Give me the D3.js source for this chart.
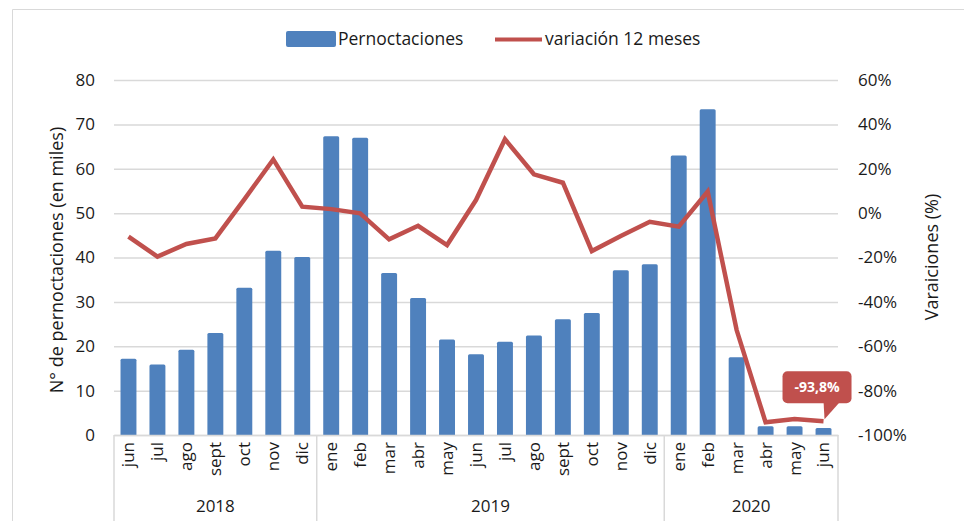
<!DOCTYPE html>
<html>
<head>
<meta charset="utf-8">
<script src="https://cdn.jsdelivr.net/npm/d3@7"></script>
<style>
  body { margin: 0; background: #fff; }
  text { font-family: "Open Sans", "Noto Sans", sans-serif; fill: #1a1a1a; }
</style>
</head>
<body>
<div id="chart"></div>
<script>
// month labels, one per bar (jun 2018 .. jun 2020)
const months = ['jun', 'jul', 'ago', 'sept', 'oct', 'nov', 'dic',
  'ene', 'feb', 'mar', 'abr', 'may', 'jun', 'jul', 'ago', 'sept', 'oct', 'nov', 'dic',
  'ene', 'feb', 'mar', 'abr', 'may', 'jun'];
const yearLabels = ['2018', '2019', '2020'];
const yearSpans = [7, 12, 6];

// pernoctaciones, miles
const pernoctaciones = [17.2, 15.9, 19.2, 23.0, 33.2, 41.5, 40.1,
  67.3, 67.0, 36.5, 30.9, 21.5, 18.2, 21.0, 22.4, 26.1, 27.5, 37.1, 38.5,
  63.0, 73.4, 17.5, 2.0, 2.0, 1.6];
// variación 12 meses, %
const variacion = [-10.6, -19.6, -13.9, -11.4, 6.2, 24.2, 2.9,
  1.8, -0.1, -11.8, -5.7, -14.4, 5.9, 33.3, 17.5, 13.7, -17.1, -10.3, -3.9,
  -6.1, 9.7, -52.7, -94.3, -92.8, -93.8];

const leftTicks = [0, 10, 20, 30, 40, 50, 60, 70, 80];
const rightTicks = [-100, -80, -60, -40, -20, 0, 20, 40, 60];
const calloutLabel = '-93,8%';

const width = 964, height = 521;
const margin = { top: 80, right: 126, bottom: 86, left: 114 };
const blue = '#4f81bd', red = '#c0504d', grid = '#d9d9d9';

const keys = months.map((m, i) => i + '-' + m);

const svg = d3.select('#chart').append('svg')
  .attr('width', width)
  .attr('height', height);

// outer frame
svg.append('path')
  .attr('d', `M12.5,${height} V9.5 H${width}`)
  .attr('fill', 'none')
  .attr('stroke', grid);

const x = d3.scaleBand().domain(keys)
  .range([margin.left, width - margin.right])
  .paddingInner(0.45).paddingOuter(0.225);

const y = d3.scaleLinear().domain([0, 80])
  .range([height - margin.bottom, margin.top]);

const y2 = d3.scaleLinear().domain([-100, 60])
  .range([height - margin.bottom, margin.top]);

// gridlines + left axis
const yAxis = d3.axisLeft(y).tickValues(leftTicks)
  .tickSize(-(width - margin.left - margin.right))
  .tickPadding(19);

svg.append('g')
  .attr('class', 'y axis')
  .attr('transform', `translate(${margin.left},0)`)
  .call(yAxis)
  .call(g => g.select('.domain').remove())
  .call(g => g.selectAll('line').attr('stroke', grid).attr('stroke-width', 1.5))
  .call(g => g.selectAll('text').style('font-size', '17px').attr('fill', '#1a1a1a'));

// right axis
const y2Axis = d3.axisRight(y2).tickValues(rightTicks)
  .tickSize(0).tickPadding(20)
  .tickFormat(d => d + '%');

svg.append('g')
  .attr('class', 'y2 axis')
  .attr('transform', `translate(${width - margin.right},0)`)
  .call(y2Axis)
  .call(g => g.select('.domain').remove())
  .call(g => g.selectAll('text').style('font-size', '17px').attr('fill', '#1a1a1a'));

// bars
svg.append('g').selectAll('rect')
  .data(pernoctaciones)
  .join('rect')
  .attr('x', (d, i) => x(keys[i]))
  .attr('y', d => y(d))
  .attr('width', x.bandwidth())
  .attr('height', d => y(0) - y(d) + 1)
  .attr('rx', 1.5)
  .attr('fill', blue);

// category axis
const xAxis = d3.axisBottom(x).tickSize(0).tickPadding(0)
  .tickFormat((d, i) => months[i]);

svg.append('g')
  .attr('class', 'x axis')
  .attr('transform', `translate(0,${y(0)})`)
  .call(xAxis)
  .call(g => g.select('.domain').attr('stroke', grid).attr('stroke-width', 1.5))
  .call(g => g.selectAll('text')
    .style('font-size', '17px')
    .attr('fill', '#1a1a1a')
    .attr('text-anchor', 'end')
    .attr('dy', '0.35em')
    .attr('transform', 'translate(0,7) rotate(-90)')
    .attr('x', 0).attr('y', 0));

// group separators and year labels
let start = 0;
const bounds = [0];
yearSpans.forEach(n => { start += n; bounds.push(start); });
const step = x.step();
const xAt = i => margin.left + i * step;

svg.append('g').selectAll('line')
  .data(bounds)
  .join('line')
  .attr('x1', d => xAt(d)).attr('x2', d => xAt(d))
  .attr('y1', y(0)).attr('y2', height)
  .attr('stroke', grid).attr('stroke-width', 1.5);

svg.append('g').selectAll('text')
  .data(yearLabels)
  .join('text')
  .attr('x', (d, i) => (xAt(bounds[i]) + xAt(bounds[i + 1])) / 2)
  .attr('y', 512)
  .attr('text-anchor', 'middle')
  .style('font-size', '17px')
  .text(d => d);

// line
const line = d3.line()
  .x((d, i) => x(keys[i]) + x.bandwidth() / 2)
  .y(d => y2(d));

svg.append('path')
  .datum(variacion)
  .attr('d', line)
  .attr('fill', 'none')
  .attr('stroke', red)
  .attr('stroke-width', 4.5)
  .attr('stroke-linejoin', 'miter');

// callout on last point
const last = variacion.length - 1;
const px = x(keys[last]) + x.bandwidth() / 2;
const py = y2(variacion[last]);
const box = { x0: px - 41, x1: px + 28, y0: py - 50, y1: py - 18 };
const callout = svg.append('g');
callout.append('path')
  .attr('d', `M${px},${box.y1 - 2} L${px + 17},${box.y1 - 2} L${px + 1},${py - 2} Z`)
  .attr('fill', red);
callout.append('rect')
  .attr('x', box.x0).attr('y', box.y0)
  .attr('width', box.x1 - box.x0).attr('height', box.y1 - box.y0)
  .attr('rx', 5)
  .attr('fill', red);
callout.append('text')
  .attr('x', (box.x0 + box.x1) / 2)
  .attr('y', (box.y0 + box.y1) / 2)
  .attr('dy', '0.35em')
  .attr('text-anchor', 'middle')
  .style('font-size', '14px')
  .style('font-weight', 'bold')
  .style('fill', '#fff')
  .text(calloutLabel);

// axis titles
svg.append('text')
  .attr('transform', 'translate(57,260) rotate(-90)')
  .attr('text-anchor', 'middle')
  .attr('dy', '0.35em')
  .style('font-size', '18px')
  .text('N° de pernoctaciones (en miles)');

svg.append('text')
  .attr('transform', 'translate(932,257) rotate(-90)')
  .attr('text-anchor', 'middle')
  .attr('dy', '0.35em')
  .style('font-size', '18px')
  .text('Varaiciones (%)');

// legend
const legend = svg.append('g');
legend.append('rect')
  .attr('x', 286).attr('y', 31).attr('width', 50).attr('height', 16)
  .attr('rx', 2).attr('fill', blue);
legend.append('text')
  .attr('x', 338).attr('y', 39).attr('dy', '0.35em')
  .style('font-size', '17.5px')
  .text('Pernoctaciones');
legend.append('line')
  .attr('x1', 495).attr('x2', 542).attr('y1', 39.5).attr('y2', 39.5)
  .attr('stroke', red).attr('stroke-width', 4);
legend.append('text')
  .attr('x', 545).attr('y', 39).attr('dy', '0.35em')
  .style('font-size', '17.5px')
  .text('variación 12 meses');
</script>
</body>
</html>
